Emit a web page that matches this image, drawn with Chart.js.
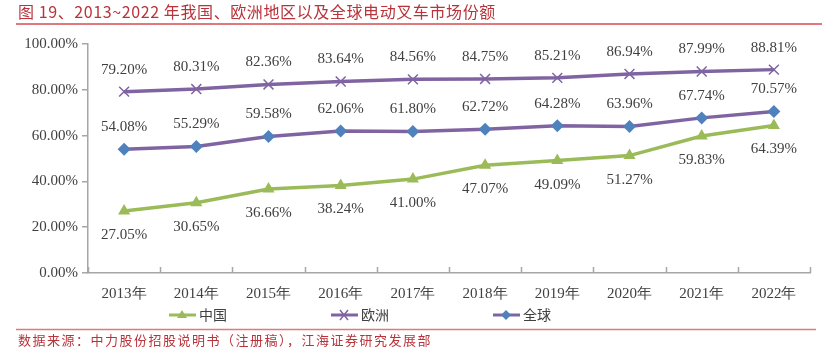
<!DOCTYPE html>
<html>
<head>
<meta charset="utf-8">
<script src="https://cdn.jsdelivr.net/npm/chart.js@4.4.1/dist/chart.umd.min.js"></script>
<style>
  html, body { margin: 0; padding: 0; background: #fff; }
  #wrap { position: relative; width: 839px; height: 349px; }
</style>
</head>
<body>
<div id="wrap"><canvas id="c" width="839" height="349"></canvas></div>
<script>
const titleText = '图 19、2013~2022 年我国、欧洲地区以及全球电动叉车市场份额';
const sourceText = '数据来源：中力股份招股说明书（注册稿），江海证券研究发展部';
const years = ['2013年','2014年','2015年','2016年','2017年','2018年','2019年','2020年','2021年','2022年'];
const china  = [27.05, 30.65, 36.66, 38.24, 41.00, 47.07, 49.09, 51.27, 59.83, 64.39];
const europe = [79.20, 80.31, 82.36, 83.64, 84.56, 84.75, 85.21, 86.94, 87.99, 88.81];
const world  = [54.08, 55.29, 59.58, 62.06, 61.80, 62.72, 64.28, 63.96, 67.74, 70.57];

const GREEN = '#9bbb59', PURPLE = '#8064a2', BLUE = '#4f81bd';
const RED = '#b8333a', AXIS = '#a6a6a6', TEXT = '#404040';
const SERIF = '"Liberation Serif", "DejaVu Serif", serif';
const CJK = '"Noto Sans CJK SC", sans-serif';

// Labels above or below each series' points
const labelOffset = { 0: 24, 1: -22, 2: -22 };

const decor = {
  id: 'decor',
  afterDraw(chart) {
    const ctx = chart.ctx;
    const xs = chart.scales.x, ys = chart.scales.y;
    ctx.save();
    // header and footer
    ctx.fillStyle = RED;
    ctx.textBaseline = 'middle';
    ctx.textAlign = 'left';
    ctx.font = '16px ' + CJK;
    ctx.letterSpacing = '0.6px';
    ctx.fillText(titleText, 18, 12);
    ctx.font = '13px ' + CJK;
    ctx.letterSpacing = '1.5px';
    ctx.fillText(sourceText, 18, 340);
    ctx.letterSpacing = '0px';
    ctx.strokeStyle = '#e0787c';
    ctx.lineWidth = 2;
    ctx.beginPath(); ctx.moveTo(16, 24); ctx.lineTo(822, 24); ctx.stroke();
    ctx.lineWidth = 1.5;
    ctx.beginPath(); ctx.moveTo(16, 329.5); ctx.lineTo(816, 329.5); ctx.stroke();

    // inward x-axis ticks at category boundaries
    ctx.strokeStyle = AXIS;
    ctx.lineWidth = 1.5;
    const step = xs.getPixelForValue(1) - xs.getPixelForValue(0);
    for (let i = 0; i <= years.length; i++) {
      const px = Math.round(xs.getPixelForValue(0) - step / 2 + i * step) + 0.5;
      ctx.beginPath(); ctx.moveTo(px, ys.bottom); ctx.lineTo(px, ys.bottom - 6); ctx.stroke();
    }

    // value labels
    ctx.fillStyle = TEXT;
    ctx.font = '15px ' + SERIF;
    ctx.textAlign = 'center';
    chart.data.datasets.forEach((ds, di) => {
      chart.getDatasetMeta(di).data.forEach((pt, i) => {
        ctx.fillText(ds.data[i].toFixed(2) + '%', pt.x, pt.y + labelOffset[di]);
      });
    });

    // legend: line with marker
    const items = [
      { text: '中国', line: GREEN, x: 169 },
      { text: '欧洲', line: PURPLE, x: 331 },
      { text: '全球', line: PURPLE, x: 493 }
    ];
    const ly = 315;
    items.forEach((it, k) => {
      ctx.strokeStyle = it.line;
      ctx.lineWidth = 3;
      ctx.beginPath(); ctx.moveTo(it.x, ly); ctx.lineTo(it.x + 27, ly); ctx.stroke();
      const cx = it.x + 13;
      if (k === 0) {
        ctx.fillStyle = GREEN;
        ctx.beginPath(); ctx.moveTo(cx, ly - 5); ctx.lineTo(cx + 5, ly + 3); ctx.lineTo(cx - 5, ly + 3); ctx.closePath(); ctx.fill();
      } else if (k === 1) {
        ctx.strokeStyle = PURPLE; ctx.lineWidth = 1.5;
        ctx.beginPath(); ctx.moveTo(cx - 4, ly - 5); ctx.lineTo(cx + 4, ly + 5);
        ctx.moveTo(cx + 4, ly - 5); ctx.lineTo(cx - 4, ly + 5); ctx.stroke();
      } else {
        ctx.fillStyle = BLUE;
        ctx.beginPath(); ctx.moveTo(cx, ly - 5); ctx.lineTo(cx + 5, ly); ctx.lineTo(cx, ly + 5); ctx.lineTo(cx - 5, ly); ctx.closePath(); ctx.fill();
      }
      ctx.fillStyle = TEXT;
      ctx.font = '14px ' + CJK;
      ctx.textAlign = 'left';
      ctx.fillText(it.text, it.x + 30, ly);
    });
    ctx.restore();
  }
};

new Chart(document.getElementById('c'), {
  type: 'line',
  data: {
    labels: years,
    datasets: [
      { label: '中国', data: china, borderColor: GREEN, backgroundColor: GREEN, borderWidth: 3.5,
        pointStyle: 'triangle', pointRadius: 7, pointBorderWidth: 0 },
      { label: '欧洲', data: europe, borderColor: PURPLE, backgroundColor: PURPLE, borderWidth: 3.5,
        pointStyle: 'cross', pointRotation: 45, pointRadius: 7, pointBorderWidth: 1.5 },
      { label: '全球', data: world, borderColor: PURPLE, backgroundColor: BLUE, borderWidth: 3.5,
        pointStyle: 'rectRot', pointRadius: 6.5, pointBorderWidth: 0, pointBorderColor: BLUE }
    ]
  },
  options: {
    responsive: false,
    animation: false,
    layout: { padding: { left: 0, right: 29, top: 44, bottom: 46 } },
    plugins: { legend: { display: false }, tooltip: { enabled: false } },
    scales: {
      x: {
        offset: true,
        grid: { display: false, drawTicks: false },
        border: { display: true, color: AXIS, width: 1.5 },
        ticks: { color: TEXT, font: { family: SERIF, size: 15 }, padding: 12, maxRotation: 0 },
        afterFit(s) { s.height = 30; }
      },
      y: {
        min: 0, max: 100,
        grid: { drawOnChartArea: false, drawTicks: true, tickLength: 6, color: AXIS, lineWidth: 1.5 },
        border: { display: true, color: AXIS, width: 1.5 },
        ticks: { stepSize: 20, color: TEXT, font: { family: SERIF, size: 15 }, padding: 4,
                 callback: v => v.toFixed(2) + '%' },
        afterFit(s) { s.width = 88; }
      }
    }
  },
  plugins: [decor]
});
</script>
</body>
</html>
